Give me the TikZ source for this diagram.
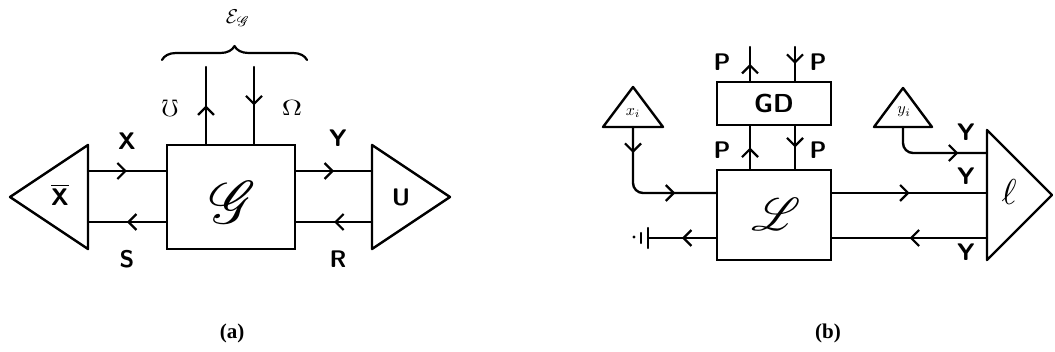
\documentclass[tikz,border=0pt]{standalone}
\usepackage{amsmath}
\usepackage{amssymb}
\usepackage{mathrsfs}
\usepackage{graphicx}
\usepackage{fontspec}
\usetikzlibrary{arrows.meta,decorations.markings,decorations.pathreplacing}
\newfontfamily\capfont{Liberation Serif}
\tikzset{
  ln/.style={line width=2.4pt, line cap=round, line join=round},
  box/.style={draw, line width=2.4pt, inner sep=0pt},
  lab/.style={font=\sffamily\bfseries\fontsize{24}{28}\selectfont, inner sep=0pt},
  fw/.style={postaction={decorate}, decoration={markings, mark=at position #1 with {\arrow{Straight Barb[length=8pt,width=16pt,line width=2.2pt]}}}},
  fw/.default=0.5,
  fwtwo/.style 2 args={postaction={decorate}, decoration={markings,
     mark=at position #1 with {\arrow{Straight Barb[length=8pt,width=16pt,line width=2.2pt]}},
     mark=at position #2 with {\arrow{Straight Barb[length=8pt,width=16pt,line width=2.2pt]}}}},
  captext/.style={font=\capfont\bfseries\fontsize{21}{25}\selectfont},
}
\begin{document}
\begin{tikzpicture}[x=1pt,y=-1pt]
\useasboundingbox (0,0) rectangle (1055,352);

% ---------------- panel (a) ----------------
\node[box, minimum width=128pt, minimum height=104pt] (G) at (231,197) {};
\node (Gl) at (233,203) {\scalebox{6}{$\mathscr{G}$}};
% left triangle
\coordinate (XbTop) at (88,145);
\coordinate (XbBot) at (88,249);
\coordinate (XbApex) at (10,197);
\draw[ln] (XbTop) -- (XbApex) -- (XbBot) -- cycle;
\node[lab] (xbar) at (60,195) {$\overline{\mbox{X}}$};
\coordinate (XbA) at (88,171);
\coordinate (XbB) at (88,222);
% right triangle
\coordinate (UTop) at (372,145);
\coordinate (UBot) at (372,249);
\coordinate (UApex) at (450,197);
\draw[ln] (UTop) -- (UApex) -- (UBot) -- cycle;
\node[lab] (u) at (401,197) {U};
\coordinate (UA) at (372,171);
\coordinate (UB) at (372,222);
% horizontal connectors
\draw[ln,fw] (XbA) -- (XbA -| G.west);
\draw[ln,fw] (XbB -| G.west) -- (XbB);
\draw[ln,fw] (UA -| G.east) -- (UA);
\draw[ln,fw] (UB) -- (UB -| G.east);
\node[lab] (lx) at (127,141) {X};
\node[lab] (ls) at (127,259) {S};
\node[lab] (ly) at (338,138) {Y};
\node[lab] (lr) at (338,259) {R};
% vertical connectors
\coordinate (mhoT) at (206,67);
\coordinate (omT) at (254,67);
\draw[ln,fw] (G.north -| mhoT) -- (mhoT);
\draw[ln,fw] (omT) -- (G.north -| omT);
\node (lmho) at (170,108) {\scalebox{2.4}{$\mho$}};
\node (lom) at (292,108) {\scalebox{2.8}[2.2]{$\Omega$}};
% brace
\coordinate (brL) at (162,60);
\coordinate (brR) at (307,60);
\draw[ln, line width=2.2pt, decorate, decoration={brace, amplitude=14pt}] (brL) -- (brR);
\node (eg) at (238,18) {\scalebox{2}{$\mathcal{E}_{\mathscr{G}}$}};
\node[captext] (capa) at (232,333) {(a)};

% ---------------- panel (b) ----------------
\node[box, minimum width=114pt, minimum height=43pt,
      font=\sffamily\bfseries\fontsize{26}{30}\selectfont] (GD) at (774,103.5) {GD};
\node[box, minimum width=114pt, minimum height=90pt] (L) at (774,215) {};
\node (Ll) at (776,214) {\scalebox{4.6}{$\mathscr{L}$}};
% P wires
\coordinate (P1T) at (750,47);
\coordinate (P2T) at (795,47);
\draw[ln,fw] (GD.north -| P1T) -- (P1T);
\draw[ln,fw] (P2T) -- (GD.north -| P2T);
\draw[ln,fw] (L.north -| P1T) -- (GD.south -| P1T);
\draw[ln,fw] (GD.south -| P2T) -- (L.north -| P2T);
\node[lab] (p1) at (722,62) {P};
\node[lab] (p2) at (818,62) {P};
\node[lab] (p3) at (722,150) {P};
\node[lab] (p4) at (818,150) {P};
% x_i triangle
\coordinate (xiApex) at (633,87);
\coordinate (xiL) at (603,127);
\coordinate (xiR) at (663,127);
\coordinate (xiB) at (633,127);
\draw[ln] (xiApex) -- (xiL) -- (xiR) -- cycle;
\node (xil) at (633,113) {\scalebox{1.6}{$x_i$}};
\coordinate (xiIn) at (717,193);
\draw[ln, rounded corners=10pt, fwtwo={0.18}{0.72}] (xiB) |- (L.west |- xiIn);
% y_i triangle
\coordinate (yiApex) at (903,88);
\coordinate (yiL) at (874,127);
\coordinate (yiR) at (932,127);
\coordinate (yiB) at (903,127);
\draw[ln] (yiApex) -- (yiL) -- (yiR) -- cycle;
\node (yil) at (904,112) {\scalebox{1.6}{$y_i$}};
% ell triangle
\coordinate (elTop) at (987,130);
\coordinate (elBot) at (987,260);
\coordinate (elApex) at (1052,195);
\draw[ln] (elTop) -- (elApex) -- (elBot) -- cycle;
\node (ell) at (1009,192) {\scalebox{3.6}{$\ell$}};
\coordinate (elA) at (987,153);
\coordinate (elB) at (987,193);
\coordinate (elC) at (987,238);
\draw[ln, rounded corners=10pt, fw=0.73] (yiB) |- (elA);
\draw[ln,fw] (L.east |- elB) -- (elB);
\draw[ln,fw] (elC) -- (L.east |- elC);
\node[lab] (y1) at (966,132) {Y};
\node[lab] (y2) at (966,176) {Y};
\node[lab] (y3) at (966,252) {Y};
% backward output with terminal bar
\coordinate (term) at (648,238);
\draw[ln,fw] (L.west |- term) -- (term);
\draw[ln] (648,228) -- (648,248);
\draw[ln] (641,233) -- (641,243);
\fill (634,237) circle (1.6pt);
\node[captext] (capb) at (828,333) {(b)};
\end{tikzpicture}
\end{document}
